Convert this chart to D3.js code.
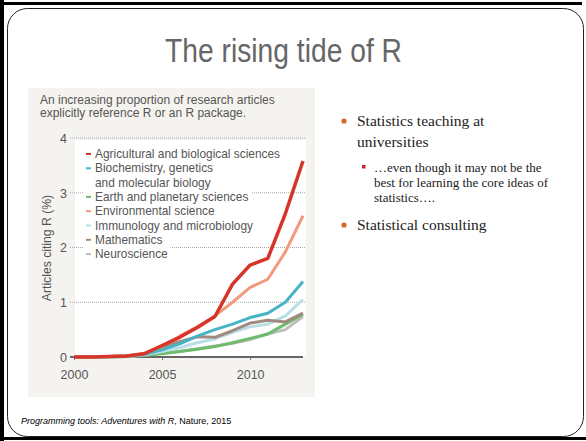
<!DOCTYPE html>
<html><head><meta charset="utf-8">
<script src="https://cdn.jsdelivr.net/npm/d3@7"></script>
<style>
html,body{margin:0;padding:0;background:#fff;}
svg{display:block;}
</style></head>
<body>
<svg id="c" width="586" height="441"></svg>
<script>
const years = [2000,2001,2002,2003,2004,2005,2006,2007,2008,2009,2010,2011,2012,2013];
const seriesNames = ["Agricultural and biological sciences","Biochemistry, genetics|and molecular biology","Earth and planetary sciences","Environmental science","Immunology and microbiology","Mathematics","Neuroscience"];
const seriesColors = ["#d7342a","#45b5c6","#6dbb6b","#f19b7c","#b9dfe6","#a08a80","#bdbdbd"];
const agri    = [0,0,0.01,0.02,0.06,0.21,0.36,0.54,0.74,1.33,1.68,1.8,2.62,3.58];
const biochem = [0,0,0.01,0.02,0.05,0.13,0.24,0.38,0.5,0.6,0.72,0.8,1.0,1.38];
const earth   = [0,0,0,0.01,0.03,0.06,0.1,0.14,0.19,0.26,0.34,0.42,0.6,0.78];
const env     = [0,0,0.01,0.02,0.07,0.2,0.38,0.55,0.75,1.0,1.27,1.42,1.92,2.58];
const immuno  = [0,0,0,0.01,0.04,0.1,0.17,0.26,0.33,0.45,0.55,0.6,0.75,1.05];
const math    = [0,0,0.01,0.02,0.06,0.18,0.28,0.37,0.36,0.48,0.62,0.67,0.64,0.8];
const neuro   = [0,0,0,0.01,0.03,0.07,0.1,0.15,0.2,0.25,0.32,0.42,0.5,0.74];
const seriesValues = [agri,biochem,earth,env,immuno,math,neuro];
const yTicks = [0,1,2,3,4];
const xTicks = [2000,2005,2010];
const drawOrder = [6,2,4,5,1,3,0];

const svg = d3.select("#c");

// slide frame
svg.append("rect").attr("x",0).attr("y",0).attr("width",4).attr("height",441).attr("fill","#000");
svg.append("rect").attr("x",0).attr("y",2).attr("width",582).attr("height",3).attr("fill","#000");
svg.append("rect").attr("x",0).attr("y",437).attr("width",586).attr("height",3).attr("fill","#000");
svg.append("rect").attr("x",7.5).attr("y",8.5).attr("width",576).attr("height",428).attr("rx",20)
  .attr("fill","#fff").attr("stroke","#222").attr("stroke-width",1);

// title
svg.append("text").attr("x",165).attr("y",62)
  .attr("font-family","'Liberation Sans',Arial,sans-serif").attr("font-size",33)
  .attr("textLength",237).attr("lengthAdjust","spacingAndGlyphs")
  .attr("fill","#666").text("The rising tide of R");

// chart panel
svg.append("rect").attr("x",28).attr("y",88).attr("width",287).attr("height",309).attr("fill","#f5f3ef");

const x = d3.scaleLinear().domain([2000,2013]).range([74,303]);
const y = d3.scaleLinear().domain([0,4]).range([357,138]);

svg.append("rect").attr("x",75).attr("y",y(4)+2).attr("width",231).attr("height",y(0)-y(4)-2).attr("fill","#fff");

const chartFont = "'Liberation Sans',Arial,sans-serif";
svg.append("text").attr("font-family",chartFont).attr("font-size",12).attr("fill","#555")
  .selectAll("tspan").data(["An increasing proportion of research articles","explicitly reference R or an R package."])
  .join("tspan").attr("x",40).attr("y",(d,i)=>104+i*13).text(d=>d);

// gridlines
svg.append("g").selectAll("line").data(yTicks.filter(d=>d>0)).join("line")
  .attr("x1",70).attr("x2",305).attr("y1",d=>y(d)).attr("y2",d=>y(d))
  .attr("stroke","#aaa").attr("stroke-width",1).attr("stroke-dasharray","1,1");

// y axis labels
const yAxis = d3.axisLeft(y).tickValues(yTicks).tickSize(0).tickPadding(0).tickFormat(d3.format("d"));
const yg = svg.append("g").attr("transform","translate(67,0)").call(yAxis);
yg.select(".domain").remove();
yg.selectAll("text").attr("font-family",chartFont).attr("font-size",12.5).attr("fill","#555").attr("dy","0.35em");

// x axis
const xAxis = d3.axisBottom(x).tickValues(xTicks).tickSize(3).tickPadding(10).tickFormat(d3.format("d"));
const xg = svg.append("g").attr("transform",`translate(0,${y(0)})`).call(xAxis);
xg.select(".domain").remove();
xg.selectAll("line").attr("stroke","#777");
xg.selectAll("text").attr("font-family",chartFont).attr("font-size",12.5).attr("fill","#555");

// legend (white halo boxes behind text)
const legendX = 86;
const legendRows = [];
seriesNames.forEach((n,i)=>{ n.split("|").forEach((t,j)=>legendRows.push({t, dash: j===0, c: seriesColors[i]})); });
const lg = svg.append("g");
legendRows.forEach((r,i)=>{
  const yy = 154 + i*14.3;
  const txt = lg.append("text").attr("x",legendX+9).attr("y",yy).attr("dy","0.35em")
    .attr("font-family",chartFont).attr("font-size",11.9).attr("fill","#555").text(r.t);
  const w = txt.node().getComputedTextLength();
  lg.insert("rect","text").attr("x",legendX-3).attr("y",yy-7).attr("width",w+15).attr("height",14).attr("fill","#fff");
  if(r.dash) lg.append("rect").attr("x",legendX).attr("y",yy-1).attr("width",5).attr("height",2).attr("fill",r.c);
});

// baseline
svg.append("line").attr("x1",70).attr("x2",303).attr("y1",y(0)).attr("y2",y(0))
  .attr("stroke","#666").attr("stroke-width",2);

// lines
const line = d3.line().x((d,i)=>x(years[i])).y(d=>y(d)).curve(d3.curveLinear);
svg.append("g").selectAll("path").data(drawOrder).join("path")
  .attr("d",k=>line(seriesValues[k])).attr("fill","none")
  .attr("stroke",k=>seriesColors[k]).attr("stroke-width",k=>k===0?3.5:3)
  .attr("stroke-linejoin","round").attr("stroke-linecap","butt");

// y axis title
svg.append("text").attr("transform","translate(51,248) rotate(-90)").attr("text-anchor","middle")
  .attr("font-family",chartFont).attr("font-size",12.2).attr("fill","#555").text("Articles citing R (%)");

// caption
const cap = svg.append("text").attr("x",21).attr("y",424).attr("font-family","Arial,'Liberation Sans',sans-serif").attr("font-size",9).attr("fill","#000");
cap.append("tspan").attr("font-style","italic").text("Programming tools: Adventures with R");
cap.append("tspan").text(", Nature, 2015");

// bullets
const serif = "'Liberation Serif','Times New Roman',serif";
const bullets = [
  {lvl:1, lines:["Statistics teaching at","universities"], y:126},
  {lvl:2, lines:["\u2026even though it may not be the","best for learning the core ideas of","statistics\u2026."], y:172},
  {lvl:1, lines:["Statistical consulting"], y:230}
];
bullets.forEach(b=>{
  const isTop = b.lvl===1;
  const tx = isTop ? 357 : 374;
  const lh = isTop ? 21 : 15;
  const t = svg.append("text").attr("font-family",serif).attr("font-size",isTop?15.5:13).attr("fill","#222");
  b.lines.forEach((l,i)=>t.append("tspan").attr("x",tx).attr("y",b.y+i*lh).text(l));
  if(isTop) svg.append("circle").attr("cx",344).attr("cy",b.y-5).attr("r",2.6).attr("fill","#e0662a");
  else svg.append("rect").attr("x",362).attr("y",b.y-7).attr("width",3.5).attr("height",3.5).attr("fill","#c0282a");
});
</script>
</body></html>
